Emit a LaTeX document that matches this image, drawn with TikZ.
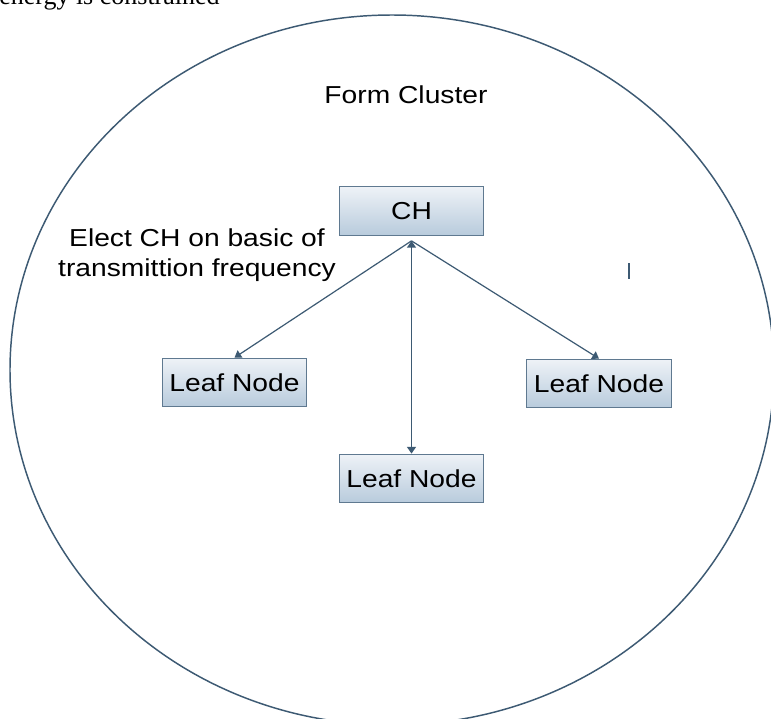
\documentclass[tikz,border=0pt]{standalone}
\usepackage{fontspec}
\setmainfont{Liberation Sans}[FakeStretch=1.15]
\newfontfamily\capfont{Liberation Serif}
\usetikzlibrary{arrows.meta}
\definecolor{edgeblue}{HTML}{3D5A73}
\definecolor{boxline}{HTML}{5F7990}
\definecolor{boxtop}{HTML}{EEF2F7}
\definecolor{boxbot}{HTML}{B8CBDC}

\begin{document}
\begin{tikzpicture}[
	x=0.75pt,
	y=-0.75pt,
	font=\fontsize{18.4}{22.5}\selectfont,
	box/.style={draw=boxline,line width=0.8pt,top color=boxtop,bottom color=boxbot,
		minimum width=108.5pt,minimum height=36.5pt,inner sep=0pt},
	ring/.style={draw=edgeblue,line width=1.1pt,fill=white},
	arr/.style={draw=edgeblue,line width=0.9pt,-{Triangle[length=5pt,width=6.5pt]}},
	arrb/.style={draw=edgeblue,line width=1.4pt,{Triangle[length=5pt,width=6.5pt]}-{Triangle[length=5pt,width=6.5pt]}}
	]
	\useasboundingbox (0,0) rectangle (771,718);
	\node[anchor=base west,inner sep=0pt,font=\capfont\fontsize{19.5}{22}\selectfont] (T) at (-1,4) {energy is constrained};
	\draw[ring] (392,370) ellipse [x radius=382,y radius=355];
	\node (F) at (406,95) {Form Cluster};
	\node[align=center,inner sep=0pt] (E) at (197,255) {Elect CH on basic of\\transmittion frequency};
	\node[box] (CH) at (411.5,211) {CH};
	\node[box] (L1) at (234.5,382.5) {Leaf Node};
	\node[box] (L2) at (411.5,478.5) {Leaf Node};
	\node[box] (L3) at (599,383.5) {Leaf Node};
	\coordinate (S) at ([yshift=-3.75pt]CH.south);
	\draw[arr] (S) -- (L1.north);
	\draw[arr] (S) -- (L3.north);
	\draw[arrb] (S) -- (L2.north);
	\draw[draw=edgeblue,line width=1.2pt] (629,263) -- (629,279);
\end{tikzpicture}
\end{document}
